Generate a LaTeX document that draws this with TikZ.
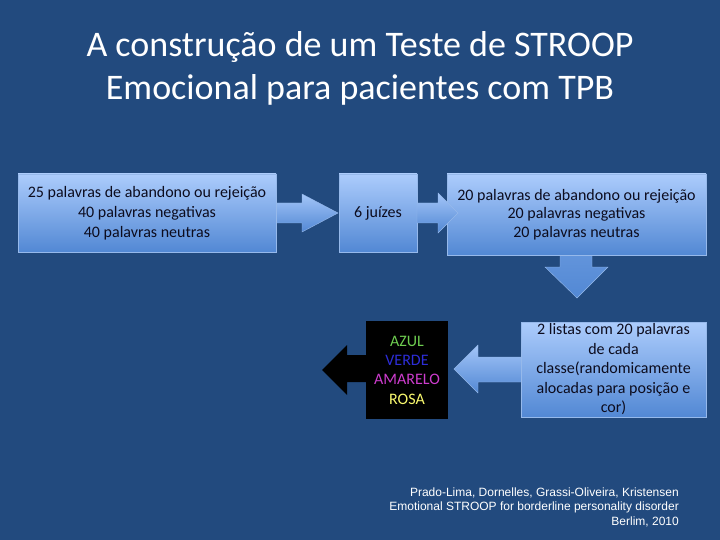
\documentclass[tikz,border=0pt]{standalone}
\usepackage{fontspec}
\setmainfont{Carlito}
\newfontfamily\arialf{Liberation Sans}
\definecolor{bg}{RGB}{34,74,126}
\definecolor{boxtop}{RGB}{172,204,252}
\definecolor{boxbot}{RGB}{82,136,212}
\definecolor{boxedge}{RGB}{150,185,235}
\definecolor{txt}{RGB}{12,12,30}
\definecolor{wazul}{RGB}{110,205,80}
\definecolor{wverde}{RGB}{45,45,215}
\definecolor{wamarelo}{RGB}{205,60,205}
\definecolor{wrosa}{RGB}{250,250,110}
\begin{document}
\begin{tikzpicture}[x=1pt,y=-1pt,
  box/.style={draw=boxedge, line width=0.6pt, top color=boxtop, bottom color=boxbot,
    align=center, inner sep=0pt, text=txt, font=\fontsize{16}{20}\selectfont},
  blockarrow/.style={top color=boxtop!90!boxbot, bottom color=boxbot, draw=boxedge, line width=0.4pt},
  titletext/.style={text=white, font=\fontsize{36}{44}\selectfont, inner sep=0pt, anchor=base}]
\fill[bg] (0,0) rectangle (720,540);
\useasboundingbox (0,0) rectangle (720,540);

\node[titletext] (t1) at (360,57) {A construção de um Teste de STROOP};
\node[titletext] (t2) at (360,100) {Emocional para pacientes com TPB};

% arrows under boxes
\shade[blockarrow] (270,203) -- (302,203) -- (302,194) -- (338,213) -- (302,232) -- (302,223) -- (270,223) -- cycle;
\shade[blockarrow, top color=boxbot!80!boxtop, bottom color=boxbot] (560,250) -- (592,250) -- (592,267) -- (608,267) -- (577,298) -- (545,267) -- (560,267) -- cycle;
\shade[blockarrow] (525,357) -- (478,357) -- (478,345) -- (454,369) -- (478,393) -- (478,382) -- (525,382) -- cycle;
\fill[black] (370,355) -- (347,355) -- (347,345) -- (322,370) -- (347,395) -- (347,382) -- (370,382) -- cycle;

\node[box, minimum width=258pt, minimum height=78pt] (b1) at (147,213)
  {25 palavras de abandono ou rejeição\\40 palavras negativas\\40 palavras neutras};
\node[box, minimum width=78pt, minimum height=78pt] (b2) at (378,213) {6 juízes};
\node[box, minimum width=259pt, minimum height=81pt, font=\fontsize{16}{18.7}\selectfont] (b3) at (576.5,214.5)
  {20 palavras de abandono ou rejeição\\20 palavras negativas\\20 palavras neutras};
\node[box, minimum width=185pt, minimum height=95pt, font=\fontsize{16}{19.5}\selectfont] (b4) at (613.5,369.5)
  {2 listas com 20 palavras\\de cada\\classe(randomicamente\\alocadas para posição e\\cor)};
\node[fill=black, minimum width=82pt, minimum height=98pt, align=center, inner sep=0pt,
  font=\fontsize{16}{19.3}\selectfont] (bk) at (407,370)
  {\textcolor{wazul}{AZUL}\\\textcolor{wverde}{VERDE}\\\textcolor{wamarelo}{AMARELO}\\\textcolor{wrosa}{ROSA}};

% arrow over box 3
\shade[blockarrow] (417,203) -- (438,203) -- (438,193) -- (458,213) -- (438,233) -- (438,223) -- (417,223) -- cycle;

\node[anchor=north east, align=right, inner sep=0pt, text=white,
  font=\arialf\fontsize{12}{14.5}\selectfont] (cite) at (679,487.5)
  {Prado-Lima, Dornelles, Grassi-Oliveira, Kristensen\\Emotional STROOP for borderline personality disorder\\Berlim, 2010};
\end{tikzpicture}
\end{document}
